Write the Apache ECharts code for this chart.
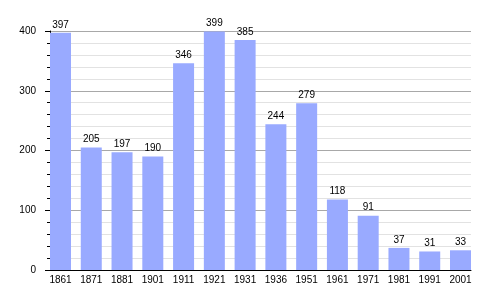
<!DOCTYPE html>
<html><head><meta charset="utf-8">
<script src="https://cdn.jsdelivr.net/npm/echarts@6/dist/echarts.min.js"></script>
<style>html,body{margin:0;padding:0;background:#fff}#c{width:500px;height:300px}</style>
</head><body><div id="c"></div>
<script>
const categories = ['1861','1871','1881','1901','1911','1921','1931','1936','1951','1961','1971','1981','1991','2001'];
const values = [397,205,197,190,346,399,385,244,279,118,91,37,31,33];
const yTicks = [0,100,200,300,400];

const font = 'Liberation Sans, Arial, sans-serif';
const chart = echarts.init(document.getElementById('c'), null, {renderer:'canvas'});
chart.setOption({
  animation:false,
  backgroundColor:'#fff',
  grid:[
    {left:50, right:29, top:31, bottom:30},
    {left:60.5, right:39.5, top:31, bottom:30}
  ],
  xAxis:[
    {type:'category', gridIndex:0, data:categories, boundaryGap:true,
     axisLine:{show:true, lineStyle:{color:'#000', width:1}},
     axisTick:{show:false}, axisLabel:{show:false}, splitLine:{show:false}},
    {type:'category', gridIndex:1, data:categories, boundaryGap:false,
     axisLine:{show:false}, axisTick:{show:false},
     axisLabel:{show:true, interval:0, margin:5, color:'#000', fontSize:10, fontFamily:font},
     splitLine:{show:false}}
  ],
  yAxis:[
    {type:'value', gridIndex:0, min:0, max:400, interval:100,
     axisLine:{show:true, lineStyle:{color:'#000', width:1}},
     axisTick:{show:true, length:5, lineStyle:{color:'#000'}},
     minorTick:{show:true, splitNumber:5, length:3, lineStyle:{color:'#000'}},
     axisLabel:{margin:14, color:'#000', fontSize:10, fontFamily:font,
       formatter:v => yTicks.includes(v) ? String(v) : ''},
     splitLine:{show:true, lineStyle:{color:'#a8a8a8', width:1}},
     minorSplitLine:{show:true, lineStyle:{color:'#e2e2e2', width:1}}},
    {type:'value', gridIndex:1, min:0, max:400, interval:100, show:false,
     splitLine:{show:false}}
  ],
  series:[{
    type:'bar', xAxisIndex:1, yAxisIndex:1, data:values, barWidth:21,
    itemStyle:{color:'#99aaff'},
    label:{show:true, position:'top', distance:3, color:'#000', fontSize:10, fontFamily:font},
    z:3
  }]
});
</script></body></html>
